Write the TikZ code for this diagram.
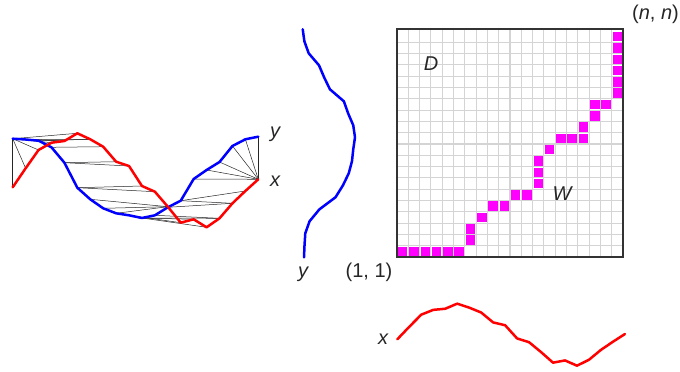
\documentclass[tikz,border=0pt]{standalone}
\usepackage{fontspec}
\setmainfont{Liberation Sans}
\begin{document}
\begin{tikzpicture}[x={(1pt,0pt)},y={(0pt,-1pt)},
  redline/.style={draw={rgb,255:red,255;green,0;blue,0},line width=2.5pt,line join=round,line cap=round},
  blueline/.style={draw={rgb,255:red,0;green,0;blue,255},line width=2.5pt,line join=round,line cap=round},
  warp/.style={draw=black!85,line width=0.5pt},
  gridline/.style={draw=black!17,line width=1.1pt},
  cellfill/.style={fill={rgb,255:red,255;green,0;blue,255}},
  lbl/.style={font=\fontsize{20}{22}\selectfont\itshape,text=black!85,inner sep=0pt},
  lblup/.style={font=\fontsize{20}{22}\selectfont,text=black!85,inner sep=0pt}]
\useasboundingbox (0,0) rectangle (680,372);
\def\Rlist{187.3,168.3,150,142.7,141,133.3,139.3,146.7,161.7,166,186,191.7,206.7,222.7,219.3,227.3,218.3,203.3,191,179.3}
\def\Blist{138.7,139.5,140.7,147.3,162.7,187.7,199.3,208.3,213.3,215.3,218,215.3,207.3,200.7,179,170,162,146,139.3,136.7}
% coordinates of the series
\foreach \v [count=\i from 0] in \Rlist {
  \coordinate (r\i) at ({12.7+12.926*\i},\v);
  \coordinate (xr\i) at ({397.3+11.98*\i},{339.3+0.66*(\v-187.3)});
}
\foreach \v [count=\i from 0] in \Blist {
  \coordinate (b\i) at ({12.7+12.926*\i},\v);
  \coordinate (yb\i) at ({304+0.643*(\v-138.7)},{257.3-12*\i});
}
% warping connections
\foreach \a/\b in {0/0,1/0,2/0,3/0,4/0,5/0,6/1,6/2,7/3,8/4,9/4,10/5,11/5,12/6,12/7,12/8,13/9,14/10,15/10,16/10,16/11,17/12,17/13,18/13,19/14,19/15,19/16,19/17,19/18,19/19}
  \draw[warp] (r\a) -- (b\b);
% curves
\draw[blueline] (b0) \foreach \i in {1,...,19} { -- (b\i) };
\draw[redline] (r0) \foreach \i in {1,...,19} { -- (r\i) };
\draw[blueline] (yb0) \foreach \i in {1,...,19} { -- (yb\i) };
\draw[redline] (xr0) \foreach \i in {1,...,19} { -- (xr\i) };
% grid
\def\cs{11.3}
\foreach \k in {1,...,19} {
  \draw[gridline] ({397+\cs*\k},29) -- ({397+\cs*\k},257);
  \draw[gridline] (397,{257-\cs*\k}) -- (623,{257-\cs*\k});
}
\foreach \c/\r in {0/0,1/0,2/0,3/0,4/0,5/0,6/1,6/2,7/3,8/4,9/4,10/5,11/5,12/6,12/7,12/8,13/9,14/10,15/10,16/10,16/11,17/12,17/13,18/13,19/14,19/15,19/16,19/17,19/18,19/19}
  \fill[cellfill] ({397+\cs*\c+0.9},{257-\cs*\r-0.9}) rectangle ({397+\cs*(\c+1)-0.9},{257-\cs*(\r+1)+0.9});
\draw[draw=black!80,line width=1.6pt] (397,29) rectangle (623,257);
% labels
\node[lbl] (lD) at (431,64) {D};
\node[lbl] (lW) at (562,194) {W};
\node[lblup,anchor=east] (lnn) at (679,14) {(\textit{n}, \textit{n})};
\node[lblup] (l11) at (369,272) {(1, 1)};
\node[lbl] (ly2) at (303,274) {y};
\node[lbl] (lx2) at (383,339) {x};
\node[lbl] (ly1) at (275,134) {y};
\node[lbl] (lx1) at (275,181) {x};
\end{tikzpicture}
\end{document}
